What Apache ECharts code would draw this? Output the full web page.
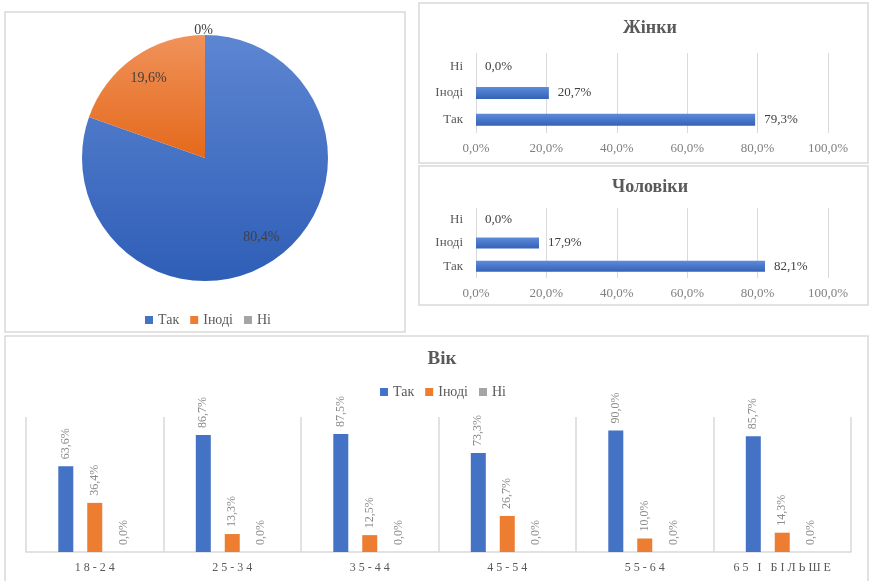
<!DOCTYPE html>
<html><head><meta charset="utf-8">
<script src="https://cdn.jsdelivr.net/npm/echarts@6/dist/echarts.min.js"></script>
<style>html,body{margin:0;padding:0;background:#fff}#c{width:870px;height:581px}</style>
</head><body><div id="c"></div>
<script>
const pieNames = ['Так', 'Іноді', 'Ні'];
const pieValues = [80.4, 19.6, 0];
const genderCats = ['Так', 'Іноді', 'Ні'];
const womenValues = [79.3, 20.7, 0];
const menValues = [82.1, 17.9, 0];
const ageCats = ['18-24', '25-34', '35-44', '45-54', '55-64', '65 і більше'];
const ageYes = [63.6, 86.7, 87.5, 73.3, 90.0, 85.7];
const ageSometimes = [36.4, 13.3, 12.5, 26.7, 10.0, 14.3];
const ageNo = [0, 0, 0, 0, 0, 0];

const F = '"Liberation Serif", "Times New Roman", serif';
const fmt = v => Number(v).toFixed(1).replace('.', ',') + '%';
const pieFmt = v => (v === 0 ? '0' : Number(v).toFixed(1).replace('.', ',')) + '%';
const BLUE = '#4472C4', ORANGE = '#ED7D31', GRAY = '#A5A5A5';
const grad = (a, b) => new echarts.graphic.LinearGradient(0, 0, 0, 1, [{offset: 0, color: a}, {offset: 1, color: b}]);
const pieColors = [grad('#5D86D2', '#2F5EB7'), grad('#F0925A', '#E4691B'), grad('#B5B5B5', '#959595')];
const hBarColor = grad('#5E8BDA', '#3462B7');

const chart = echarts.init(document.getElementById('c'), null, {renderer: 'canvas'});

const pieData = pieNames.map((n, i) => ({name: n, value: pieValues[i], itemStyle: {color: pieColors[i]}}));
const pieLabelData = pieNames.map((n, i) => {
  const d = {name: n, value: pieValues[i]};
  if (pieValues[i] === 0) d.label = {position: 'outside', offset: [13, -3]};
  return d;
});

const legTS = {fontFamily: F, fontSize: 14, color: '#595959'};
const legendItems = (cols) => pieNames.map((n, i) => ({name: n, itemStyle: {color: cols[i]}, textStyle: legTS}));

const hAxisX = (gi) => ({
  type: 'value', gridIndex: gi, min: 0, max: 100, interval: 20,
  axisLine: {show: false}, axisTick: {show: false},
  splitLine: {lineStyle: {color: '#d9d9d9', width: 1}},
  axisLabel: {formatter: fmt, fontFamily: F, fontSize: 13, color: '#7f7f7f', margin: 9}
});
const hAxisY = (gi) => ({
  type: 'category', gridIndex: gi, data: genderCats,
  axisLine: {show: false}, axisTick: {show: false},
  axisLabel: {fontFamily: F, fontSize: 13, color: '#595959', margin: 13}
});
const hSeries = (name, gi, data, bw) => ({
  name, type: 'bar', xAxisIndex: gi, yAxisIndex: gi, data, barWidth: bw,
  itemStyle: {color: hBarColor}, silent: true,
  label: {show: true, position: 'right', distance: 9, formatter: p => fmt(p.value),
          fontFamily: F, fontSize: 13, color: '#404040'}
});
const ageSeries = (name, data, color) => ({
  name, type: 'bar', xAxisIndex: 2, yAxisIndex: 2, data, barWidth: 15, barGap: '93%',
  itemStyle: {color}, silent: true,
  label: {show: true, position: 'top', rotate: 90, align: 'left', verticalAlign: 'middle',
          distance: 7, formatter: p => fmt(p.value), fontFamily: F, fontSize: 12, color: '#8a8a8a'}
});

const border = (x, y, w, h) => ({type: 'rect', shape: {x, y, width: w, height: h}, silent: true,
  style: {fill: 'none', stroke: '#d9d9d9', lineWidth: 1.5}});

chart.setOption({
  animation: false,
  backgroundColor: '#fff',
  textStyle: {fontFamily: F},
  graphic: [
    border(5, 12, 400, 320),
    border(419, 3, 449, 160),
    border(419, 166, 449, 139),
    border(5, 336, 863, 260)
  ],
  title: [
    {text: 'Жінки', left: 645, top: 14, textAlign: 'center',
     textStyle: {fontFamily: F, fontSize: 18, fontWeight: 'bold', color: '#595959'}},
    {text: 'Чоловіки', left: 645, top: 173, textAlign: 'center',
     textStyle: {fontFamily: F, fontSize: 18, fontWeight: 'bold', color: '#595959'}},
    {text: 'Вік', left: 437, top: 345, textAlign: 'center',
     textStyle: {fontFamily: F, fontSize: 19, fontWeight: 'bold', color: '#595959'}}
  ],
  legend: [
    {data: legendItems([BLUE, ORANGE, GRAY]), left: 140, top: 308, icon: 'rect', itemWidth: 8, itemHeight: 8,
     itemGap: 11, selectedMode: false, textStyle: legTS},
    {data: legendItems([BLUE, ORANGE, GRAY]), left: 375, top: 380, icon: 'rect', itemWidth: 8, itemHeight: 8,
     itemGap: 11, selectedMode: false, textStyle: legTS}
  ],
  grid: [
    {left: 476, top: 53, width: 352, height: 80},
    {left: 476, top: 208, width: 352, height: 70},
    {left: 26, top: 417, width: 825, height: 135}
  ],
  xAxis: [
    hAxisX(0), hAxisX(1),
    {type: 'category', gridIndex: 2, data: ageCats,
     axisLine: {lineStyle: {color: '#d9d9d9', width: 1.5}}, axisTick: {show: false},
     splitLine: {show: true, lineStyle: {color: '#d9d9d9', width: 1.5}},
     axisLabel: {formatter: v => v.toUpperCase().split('').join(' '), fontFamily: F, fontSize: 12,
                 color: '#595959', margin: 10}}
  ],
  yAxis: [
    hAxisY(0), hAxisY(1),
    {type: 'value', gridIndex: 2, min: 0, max: 100, show: false}
  ],
  series: [
    {type: 'pie', center: [205, 158], radius: [0, 123], startAngle: 90, clockwise: true,
     data: pieData, silent: true, label: {show: false}, labelLine: {show: false}},
    {type: 'pie', center: [205, 158], radius: [66, 123], startAngle: 90, clockwise: true,
     data: pieLabelData, silent: true, avoidLabelOverlap: false,
     itemStyle: {color: 'rgba(0,0,0,0)', borderWidth: 0},
     label: {show: true, position: 'inside', formatter: p => pieFmt(p.value),
             fontFamily: F, fontSize: 14, color: '#404040'},
     labelLine: {show: false, length: 2, length2: 0}},
    hSeries('Жінки', 0, womenValues, 12),
    hSeries('Чоловіки', 1, menValues, 11),
    ageSeries('Так', ageYes, BLUE),
    ageSeries('Іноді', ageSometimes, ORANGE),
    ageSeries('Ні', ageNo, GRAY)
  ]
});
</script></body></html>
